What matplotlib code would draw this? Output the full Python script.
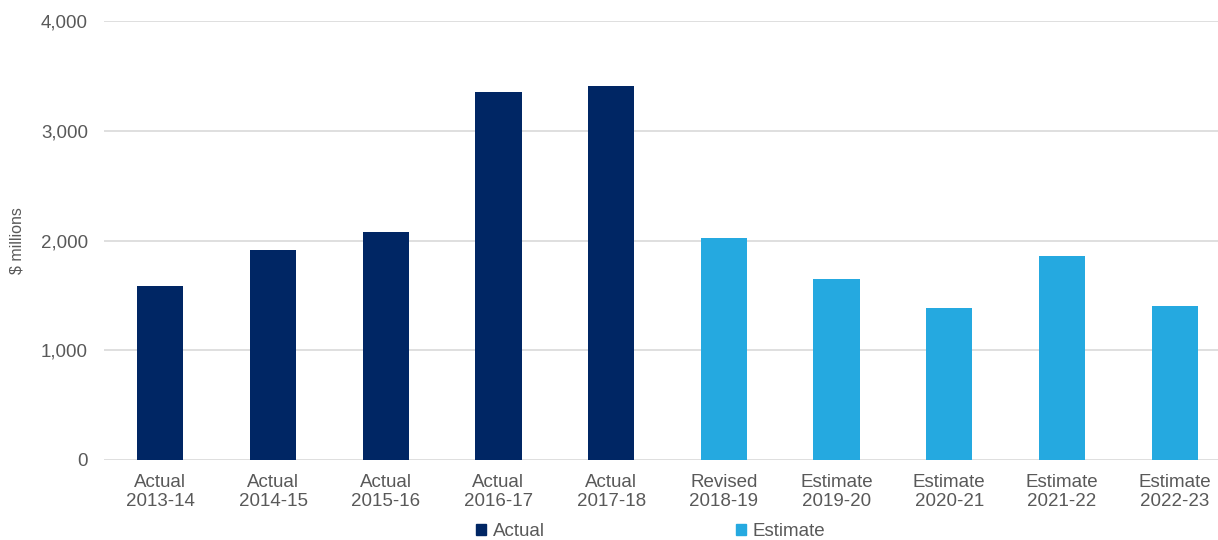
import numpy as np
import matplotlib.pyplot as plt
from matplotlib.patches import Patch

plt.rcParams['font.family'] = ['Liberation Sans', 'DejaVu Sans']

# chart data
years = ['2013-14', '2014-15', '2015-16', '2016-17', '2017-18',
         '2018-19', '2019-20', '2020-21', '2021-22', '2022-23']
stages = ['Actual', 'Actual', 'Actual', 'Actual', 'Actual',
          'Revised', 'Estimate', 'Estimate', 'Estimate', 'Estimate']
values = [1587, 1917, 2080, 3350, 3407, 2024, 1646, 1387, 1863, 1405]
is_actual = [True, True, True, True, True, False, False, False, False, False]

col_actual = '#002664'
col_estimate = '#25A9E0'
text_col = '#595959'

W, H = 1218, 540
fig = plt.figure(figsize=(W / 100, H / 100), dpi=100)
# plot area runs past the right edge of the picture, as in the original
ax = fig.add_axes([104 / W, 1 - 460 / H, (1231 - 104) / W, (460 - 21) / H])

x = np.arange(len(years))
colors = [col_actual if a else col_estimate for a in is_actual]
ax.bar(x, values, width=0.41, color=colors, zorder=3)

ax.set_xlim(-0.5, 9.5)
ax.set_ylim(0, 4000)
ax.set_yticks([0, 1000, 2000, 3000, 4000])
ax.set_yticklabels(['{:,}'.format(v) for v in [0, 1000, 2000, 3000, 4000]])
ax.set_xticks(x)
ax.set_xticklabels([s + '\n' + y for s, y in zip(stages, years)])

ax.grid(axis='y', color='#D9D9D9', linewidth=1.2, zorder=0)
for sp in ax.spines.values():
    sp.set_visible(False)
ax.tick_params(axis='both', length=0, colors=text_col, labelsize=13.5)
ax.tick_params(axis='y', pad=11.5)
ax.tick_params(axis='x', pad=10)
for lbl in ax.get_xticklabels():
    lbl.set_linespacing(1.2)

ax.set_ylabel('$ millions', color=text_col, fontsize=11.5, labelpad=12)

handles = [Patch(color=col_actual, label='Actual'),
           Patch(color=col_estimate, label='Estimate')]
fig.legend(handles=handles, loc='center', bbox_to_anchor=(0.534, 0.016),
           ncol=2, frameon=False, fontsize=13.5, labelcolor=text_col,
           handlelength=0.55, handleheight=0.55, handletextpad=0.35,
           columnspacing=10.2, borderpad=0)

fig.savefig('out.png', dpi=100)
